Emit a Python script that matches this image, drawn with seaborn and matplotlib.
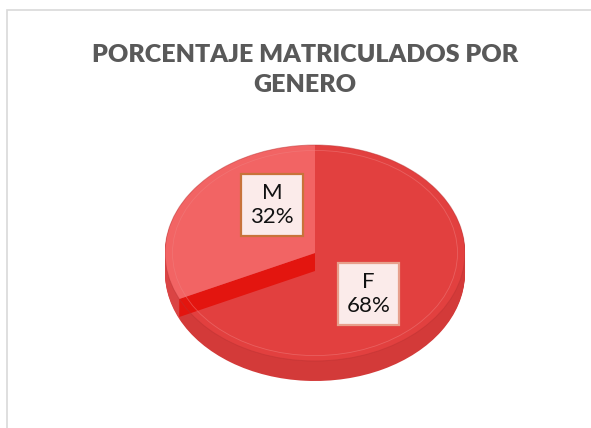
import numpy as np
import pandas as pd
import matplotlib
matplotlib.use("Agg")
import matplotlib.pyplot as plt
import seaborn as sns
from matplotlib.patches import Rectangle, Polygon, Ellipse

# =========================
# DATA
# =========================
labels = ["M", "F"]
shares = [32, 68]
top_colors = ["#F26464", "#E2403F"]
side_colors = ["#DA4444", "#D33A39"]
cut_color = "#E3150F"

TITLE = "PORCENTAJE MATRICULADOS POR\nGENERO"

sns.set_style("white")
plt.rcParams["font.family"] = ["Lato", "DejaVu Sans"]

W, H = 591, 428
fig = plt.figure(figsize=(W / 100, H / 100), dpi=100)
fig.patch.set_facecolor("white")

# chart frame (light gray, runs off the right/bottom edge)
fig.patches.append(Rectangle((7 / W, -0.05), 1.2, 1 - 10 / H + 0.05,
                             transform=fig.transFigure, fill=False,
                             edgecolor="#D9D9D9", linewidth=1.2))

fig.text(305 / W, 1 - 70 / H, TITLE, ha="center", va="center",
         fontsize=18, fontweight="heavy", color="#595959", linespacing=1.45)

# axes: x 165..465 px, y 130..400 px (top-origin)
ax = fig.add_axes([165 / W, 1 - 400 / H, 300 / W, 270 / H])
px_per_unit_y = 108
ytop = (253 - 130) / px_per_unit_y
ybot = ytop - 270 / px_per_unit_y
depth = 20 / px_per_unit_y

start = 90
# side of the cylinder: stacked copies
for d in np.linspace(depth, 0, 20)[:-1]:
    ax.pie(shares, colors=side_colors, startangle=start, counterclock=True,
           center=(0, -d), radius=1, wedgeprops=dict(linewidth=0))

wedges, _ = ax.pie(shares, colors=top_colors, startangle=start,
                   counterclock=True, center=(0, 0), radius=1,
                   wedgeprops=dict(linewidth=0))
wedges[0].set_zorder(4)
wedges[1].set_zorder(2)

# cut face of the M slice at its boundary with F
ang = np.deg2rad(start + 360 * shares[0] / sum(shares))
ex, ey = np.cos(ang), np.sin(ang)
band = depth * 0.9
ax.add_patch(Polygon([(0, 0), (ex, ey), (ex, ey - band), (0, -band)],
                     closed=True, facecolor=cut_color, edgecolor="none", zorder=3))

# subtle rim lines of the top face
ax.add_patch(Ellipse((0, 0), 2, 2, fill=False, edgecolor="#B83232",
                     linewidth=0.7, alpha=0.45, zorder=5))
ax.add_patch(Ellipse((0, 0), 1.9, 1.9, fill=False, edgecolor="#F08080",
                     linewidth=0.6, alpha=0.5, zorder=5))

box = dict(boxstyle="square,pad=0.4", facecolor="#FBEBEA", edgecolor="#C8733A",
           linewidth=1.6)
ax.text(-0.287, 0.444, f"{labels[0]}\n{shares[0]}%", ha="center", va="center",
        fontsize=16, color="#111111", bbox=box, zorder=6, linespacing=1.25)
box_f = dict(box, edgecolor="#E7A08C")
ax.text(0.357, -0.38, f"{labels[1]}\n{shares[1]}%", ha="center", va="center",
        fontsize=16, color="#111111", bbox=box_f, zorder=6, linespacing=1.25)

ax.set_aspect("auto")
ax.set_xlim(-1, 1)
ax.set_ylim(ybot, ytop)
ax.axis("off")

fig.savefig("out.png", dpi=100)
